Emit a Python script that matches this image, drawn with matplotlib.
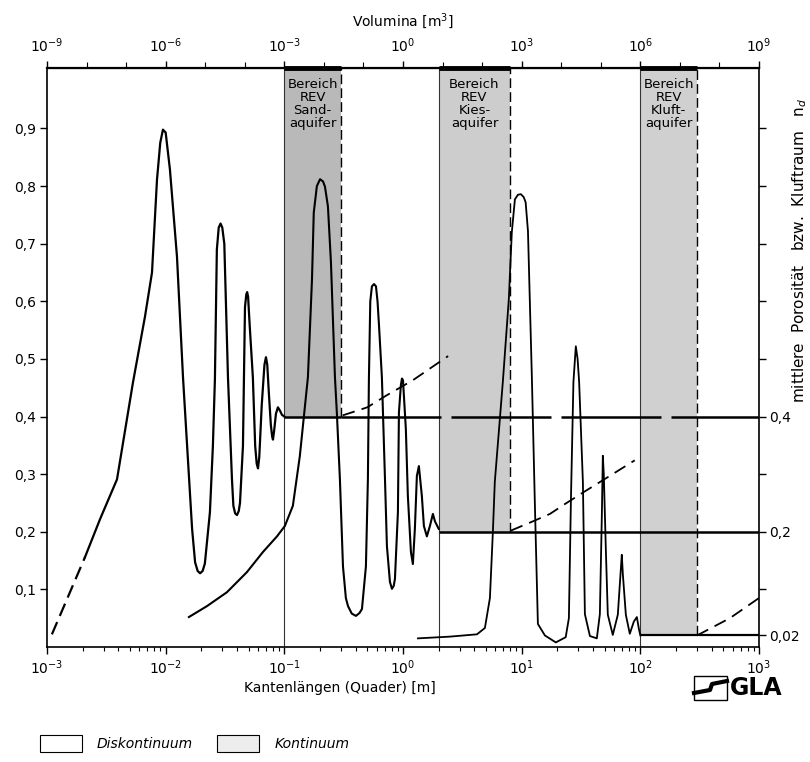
import matplotlib
matplotlib.use('Agg')
import matplotlib.pyplot as plt
from matplotlib.patches import Rectangle
from matplotlib.lines import Line2D
from matplotlib.ticker import NullFormatter, FixedLocator, LogLocator

plt.rcParams['font.family'] = ['DejaVu Sans']

# ---------------- data ----------------
# curve for the sand aquifer (porosity vs. edge length)
sand_dash_L = [0.00110, 0.00209]
sand_dash_n = [0.022, 0.156]
sand_L = [0.00209, 0.00280, 0.00389, 0.00530, 0.00670, 0.00767, 0.00845, 0.0090, 0.00948, 0.0100,
          0.01086, 0.01245, 0.0140, 0.0167, 0.0177, 0.0186, 0.0195, 0.0205, 0.0214, 0.0236,
          0.0250, 0.0260, 0.0270, 0.0280, 0.0290, 0.0300, 0.0312, 0.0335, 0.0362, 0.0372,
          0.0385, 0.0399, 0.0413, 0.0423, 0.0448, 0.0466, 0.0478, 0.0486, 0.0495, 0.0510,
          0.0543, 0.0568, 0.0585, 0.0600, 0.0615, 0.0645, 0.0680, 0.0700, 0.0718, 0.0741,
          0.0770, 0.0790, 0.0802, 0.0820, 0.0850, 0.0883, 0.0920, 0.0955, 0.1]
sand_n = [0.156, 0.222, 0.291, 0.459, 0.574, 0.650, 0.811, 0.875, 0.898, 0.893,
          0.829, 0.678, 0.468, 0.205, 0.147, 0.132, 0.128, 0.132, 0.145, 0.234,
          0.349, 0.465, 0.690, 0.728, 0.735, 0.728, 0.700, 0.468, 0.291, 0.245,
          0.232, 0.229, 0.236, 0.250, 0.349, 0.590, 0.612, 0.616, 0.608, 0.560,
          0.468, 0.349, 0.318, 0.310, 0.330, 0.420, 0.490, 0.503, 0.490, 0.440,
          0.385, 0.365, 0.360, 0.375, 0.405, 0.416, 0.410, 0.403, 0.400]

# curve for the gravel aquifer
kies_L = [0.0157, 0.0223, 0.0328, 0.0484, 0.0661, 0.0867, 0.101, 0.118, 0.135, 0.158,
          0.171, 0.177, 0.188, 0.200, 0.212, 0.220, 0.233, 0.247, 0.267, 0.277,
          0.294, 0.312, 0.330, 0.344, 0.370, 0.401, 0.430, 0.451, 0.487, 0.506,
          0.516, 0.530, 0.547, 0.570, 0.592, 0.610, 0.627, 0.664, 0.705, 0.732,
          0.776, 0.807, 0.835, 0.855, 0.906, 0.924, 0.960, 0.980, 1.0, 1.057,
          1.099, 1.166, 1.211, 1.259, 1.309, 1.361, 1.442, 1.500, 1.589, 1.686,
          1.786, 1.86, 2.0]
kies_n = [0.052, 0.071, 0.095, 0.130, 0.165, 0.192, 0.210, 0.245, 0.331, 0.468,
          0.638, 0.754, 0.800, 0.812, 0.808, 0.799, 0.765, 0.668, 0.468, 0.407,
          0.291, 0.140, 0.085, 0.071, 0.058, 0.054, 0.059, 0.066, 0.140, 0.291,
          0.465, 0.600, 0.626, 0.630, 0.626, 0.600, 0.560, 0.468, 0.291, 0.175,
          0.113, 0.101, 0.106, 0.118, 0.234, 0.407, 0.455, 0.466, 0.463, 0.378,
          0.262, 0.165, 0.144, 0.205, 0.297, 0.314, 0.262, 0.210, 0.192, 0.210,
          0.231, 0.218, 0.205]

# curve for the fractured aquifer
kluft_L = [1.337, 2.48, 4.20, 4.90, 5.40, 5.72, 5.94, 6.95, 7.80, 8.26,
           8.77, 9.3, 9.85, 10.4, 10.8, 11.3, 12.2, 12.9, 13.7, 15.7,
           19.4, 23.5, 25.0, 26.0, 27.3, 28.6, 29.6, 30.5, 32.8, 34.1,
           37.6, 43.0, 45.6, 47.4, 48.3, 49.2, 51.2, 53.2, 58.6, 64.6,
           68.5, 69.8, 71.3, 75.5, 81.5, 88.1, 93.5, 97.3, 100]
kluft_n = [0.015, 0.018, 0.022, 0.033, 0.085, 0.200, 0.287, 0.462, 0.605, 0.720,
           0.777, 0.785, 0.786, 0.781, 0.772, 0.722, 0.465, 0.254, 0.040, 0.020,
           0.008, 0.017, 0.050, 0.254, 0.460, 0.522, 0.500, 0.460, 0.287, 0.057,
           0.019, 0.015, 0.057, 0.230, 0.332, 0.300, 0.170, 0.056, 0.021, 0.056,
           0.135, 0.160, 0.125, 0.056, 0.023, 0.044, 0.052, 0.031, 0.020]

# REV ranges
rev_names = ['Sand-', 'Kies-', 'Kluft-']
rev_lo = [0.1, 2.0, 100.0]
rev_hi = [0.3, 8.0, 300.0]
rev_level = [0.4, 0.2, 0.02]
level_end = 1000.0

# dashed trend curves beyond the REV
trend1_L = [0.31, 0.50, 0.73, 1.21, 2.4]
trend1_n = [0.402, 0.416, 0.437, 0.463, 0.505]
trend2_L = [8.1, 12.4, 17.3, 23.5, 32.8, 55.3, 89.7]
trend2_n = [0.202, 0.218, 0.231, 0.249, 0.268, 0.297, 0.324]
trend3_L = [300, 568, 1000]
trend3_n = [0.02, 0.050, 0.085]

left_ticks = [0.1, 0.2, 0.3, 0.4, 0.5, 0.6, 0.7, 0.8, 0.9]
left_labels = ['0,1', '0,2', '0,3', '0,4', '0,5', '0,6', '0,7', '0,8', '0,9']
right_ticks = [0.02, 0.1, 0.2, 0.3, 0.4, 0.5, 0.6, 0.7, 0.8, 0.9]
right_labels = ['0,02', '', '0,2', '', '0,4', '', '', '', '', '']
bottom_ticks = [1e-3, 1e-2, 1e-1, 1e0, 1e1, 1e2, 1e3]
bottom_labels = [r'$10^{-3}$', r'$10^{-2}$', r'$10^{-1}$', r'$10^{0}$', r'$10^{1}$', r'$10^{2}$', r'$10^{3}$']
top_ticks = [1e-9, 1e-6, 1e-3, 1e0, 1e3, 1e6, 1e9]
top_labels = [r'$10^{-9}$', r'$10^{-6}$', r'$10^{-3}$', r'$10^{0}$', r'$10^{3}$', r'$10^{6}$', r'$10^{9}$']
top_minor = [10.0 ** k for k in range(-9, 10)]

# ---------------- figure ----------------
fig = plt.figure(figsize=(8.1, 7.62), dpi=100)
ax = fig.add_axes([47 / 810, 1 - 647 / 762, 712 / 810, 579 / 762])
ax.set_xscale('log')
ax.set_xlim(1e-3, 1e3)
ax.set_ylim(0, 1.005)

band_colors = ['#b9b9b9', '#cdcdcd', '#d0d0d0']
for lo, hi, lev, name, col in zip(rev_lo, rev_hi, rev_level, rev_names, band_colors):
    ax.fill_between([lo, hi], [lev, lev], [1.005, 1.005], color=col, lw=0, zorder=1)
    ax.axvline(lo, color='#333333', lw=0.8, zorder=2)
    ax.vlines(hi, lev, 1.005, colors='black', linestyles=(0, (7, 3)), lw=1.0, zorder=2)
    ax.hlines(1.005, lo, hi, colors='black', lw=3.5, zorder=5, clip_on=False)
    ax.text((lo * hi) ** 0.5, 0.988, 'Bereich\nREV\n' + name + '\naquifer', ha='center', va='top',
            fontsize=9.5, linespacing=1.0, zorder=6)

# horizontal REV levels
ax.hlines(rev_level[0], rev_lo[0], rev_hi[0], colors='black', lw=1.8, zorder=4)
ax.hlines(rev_level[0], rev_hi[0], level_end, colors='black', lw=1.8, linestyles=(0, (40, 4)), zorder=4)
ax.hlines(rev_level[1], rev_lo[1], level_end, colors='black', lw=1.8, zorder=4)
ax.hlines(rev_level[2], rev_lo[2], level_end, colors='black', lw=1.6, zorder=4)

# curves
ax.plot(sand_dash_L, sand_dash_n, color='black', lw=1.6, ls=(0, (6, 3)), zorder=4)
ax.plot(sand_L, sand_n, color='black', lw=1.6, solid_joinstyle='round', zorder=4)
ax.plot(kies_L, kies_n, color='black', lw=1.5, solid_joinstyle='round', zorder=4)
ax.plot(kluft_L, kluft_n, color='black', lw=1.3, solid_joinstyle='round', zorder=4)
for tl, tn in ((trend1_L, trend1_n), (trend2_L, trend2_n), (trend3_L, trend3_n)):
    ax.plot(tl, tn, color='black', lw=1.3, ls=(0, (7, 4)), zorder=4)

# axes styling
for s in ax.spines.values():
    s.set_linewidth(1.2)
ax.spines['top'].set_linewidth(1.6)
ax.set_yticks(left_ticks)
ax.set_yticklabels(left_labels, fontsize=10)
ax.set_xticks(bottom_ticks)
ax.set_xticklabels(bottom_labels, fontsize=10)
ax.xaxis.set_minor_locator(LogLocator(base=10, subs=range(2, 10)))
ax.xaxis.set_minor_formatter(NullFormatter())
ax.tick_params(axis='both', which='major', direction='out', length=5, width=1, pad=3)
ax.tick_params(axis='x', which='minor', direction='out', length=3, width=0.8)
ax.set_xlabel('Kantenlängen (Quader) [m]', fontsize=10, labelpad=8)
ax.xaxis.set_label_coords((340 - 47) / 712, -0.058)

ax2 = ax.twinx()
ax2.set_ylim(ax.get_ylim())
ax2.set_yticks(right_ticks)
ax2.set_yticklabels(right_labels, fontsize=10)
ax2.tick_params(axis='y', direction='out', length=5, width=1, pad=2)
for s in ax2.spines.values():
    s.set_visible(False)

sec = ax.secondary_xaxis('top', functions=(lambda L: L ** 3, lambda V: V ** (1.0 / 3.0)))
sec.set_xticks(top_ticks)
sec.set_xticklabels(top_labels, fontsize=10)
sec.xaxis.set_minor_locator(FixedLocator(top_minor))
sec.xaxis.set_minor_formatter(NullFormatter())
sec.tick_params(axis='x', which='major', direction='out', length=5, width=1, pad=4)
sec.tick_params(axis='x', which='minor', direction='out', length=4, width=0.8)
sec.set_xlabel(r'Volumina [m$^3$]', fontsize=10, labelpad=8)

fig.text(800 / 810, 1 - 250 / 762, r'mittlere  Porosität   bzw.  Kluftraum   n$_d$', rotation=90,
         ha='center', va='center', fontsize=11)

# legend
fig.patches.append(Rectangle((40 / 810, 1 - 752 / 762), 42 / 810, 17 / 762, transform=fig.transFigure,
                             facecolor='white', edgecolor='black', lw=0.8))
fig.text(97 / 810, 1 - 744 / 762, 'Diskontinuum', style='italic', fontsize=10, va='center')
fig.patches.append(Rectangle((217 / 810, 1 - 752 / 762), 42 / 810, 17 / 762, transform=fig.transFigure,
                             facecolor='#ededed', edgecolor='black', lw=0.8))
fig.text(275 / 810, 1 - 744 / 762, 'Kontinuum', style='italic', fontsize=10, va='center')

# logo
fig.patches.append(Rectangle((694 / 810, 1 - 700 / 762), 33 / 810, 24 / 762, transform=fig.transFigure,
                             facecolor='white', edgecolor='black', lw=1.0))
fig.lines.append(Line2D([694 / 810, 710 / 810, 712 / 810, 727 / 810],
                        [1 - 693 / 762, 1 - 690 / 762, 1 - 684 / 762, 1 - 681 / 762],
                        transform=fig.transFigure, color='black', lw=3))
fig.text(730 / 810, 1 - 688 / 762, 'GLA', fontsize=17, fontweight='heavy', va='center', ha='left')

fig.savefig('out.png', dpi=100)
